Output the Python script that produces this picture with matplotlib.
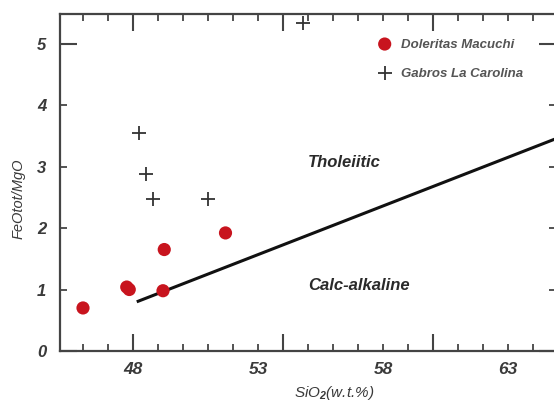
import matplotlib.pyplot as plt
from matplotlib.ticker import MultipleLocator, FixedLocator, FormatStrFormatter

plt.rcParams['font.family'] = ['Liberation Sans', 'DejaVu Sans']
plt.rcParams['font.style'] = 'italic'
plt.rcParams['font.weight'] = 'bold'
plt.rcParams['mathtext.fontset'] = 'custom'
plt.rcParams['mathtext.rm'] = 'Liberation Sans:italic:bold'
plt.rcParams['mathtext.default'] = 'rm'

# Doleritas Macuchi
dol_sio2 = [46.0, 47.75, 47.85, 49.2, 49.25, 51.7]
dol_ratio = [0.70, 1.04, 1.00, 0.98, 1.65, 1.92]

# Gabros La Carolina
gab_sio2 = [48.25, 48.5, 48.8, 51.0, 54.8]
gab_ratio = [3.55, 2.88, 2.47, 2.47, 5.33]

# limite toleitica / calco-alcalina
line_sio2 = [48.15, 64.9]
line_ratio = [0.80, 3.45]

x_labels = [48, 53, 58, 63]

text_col = '#3a3a3a'

fig = plt.figure(figsize=(5.54, 4.03), dpi=100)
ax = fig.add_axes([60 / 554, 52 / 403, 496 / 554, 337 / 403])

ax.plot(line_sio2, line_ratio, color='#111111', lw=2.2, solid_capstyle='butt')
ax.scatter(dol_sio2, dol_ratio, s=90, color='#c8141e', edgecolors='none',
           label='Doleritas Macuchi', zorder=3)
ax.scatter(gab_sio2, gab_ratio, s=90, marker='+', color='#333333', linewidths=1.3,
           label='Gabros La Carolina', zorder=3)

ax.set_xlim(45.08, 64.92)
ax.set_ylim(0, 5.48)

# ticks en x: largos cada 6, cortos cada 1; etiquetas aparte
ax.xaxis.set_major_locator(FixedLocator([48, 54, 60]))
ax.xaxis.set_minor_locator(MultipleLocator(1))
ax.tick_params(axis='x', which='both', direction='in', top=True, bottom=True,
               labelbottom=False, color='#444444')
ax.tick_params(axis='x', which='major', length=12, width=1.5)
ax.tick_params(axis='x', which='minor', length=5, width=1.3)

sec = ax.secondary_xaxis('bottom')
sec.set_xticks(x_labels)
sec.tick_params(length=0, pad=8, labelsize=12.5, labelcolor=text_col)
sec.spines['bottom'].set_visible(False)

# ticks en y
ax.yaxis.set_major_locator(FixedLocator([0, 5]))
ax.yaxis.set_minor_locator(MultipleLocator(1))
ax.yaxis.set_major_formatter(FormatStrFormatter('%d'))
ax.yaxis.set_minor_formatter(FormatStrFormatter('%d'))
ax.tick_params(axis='y', which='both', direction='in', left=True, right=True,
               labelsize=12, labelcolor=text_col, pad=10, color='#444444')
ax.tick_params(axis='y', which='major', length=12, width=1.5)
ax.tick_params(axis='y', which='minor', length=5, width=1.3)

for sp in ax.spines.values():
    sp.set_color('#444444')
    sp.set_linewidth(1.6)

ax.set_xlabel('SiO$_2$(w.t.%)', fontsize=11, color=text_col)
ax.xaxis.set_label_coords(0.552, -0.098)
ax.set_ylabel('FeOtot/MgO', fontsize=10.5, color=text_col)
ax.yaxis.set_label_coords(-0.069, 0.451)

ax.text(56.44, 3.07, 'Tholeiitic', fontsize=12, color='#2a2a2a', ha='center', va='center')
ax.text(57.04, 1.07, 'Calc-alkaline', fontsize=12, color='#2a2a2a', ha='center', va='center')

leg = ax.legend(loc='upper left', bbox_to_anchor=(0.64, 0.928), frameon=False,
                fontsize=9.5, labelspacing=1.3, handletextpad=0.7, handlelength=1.1,
                borderpad=0, borderaxespad=0)
for t in leg.get_texts():
    t.set_color('#555555')

fig.savefig('out.png', dpi=100)
